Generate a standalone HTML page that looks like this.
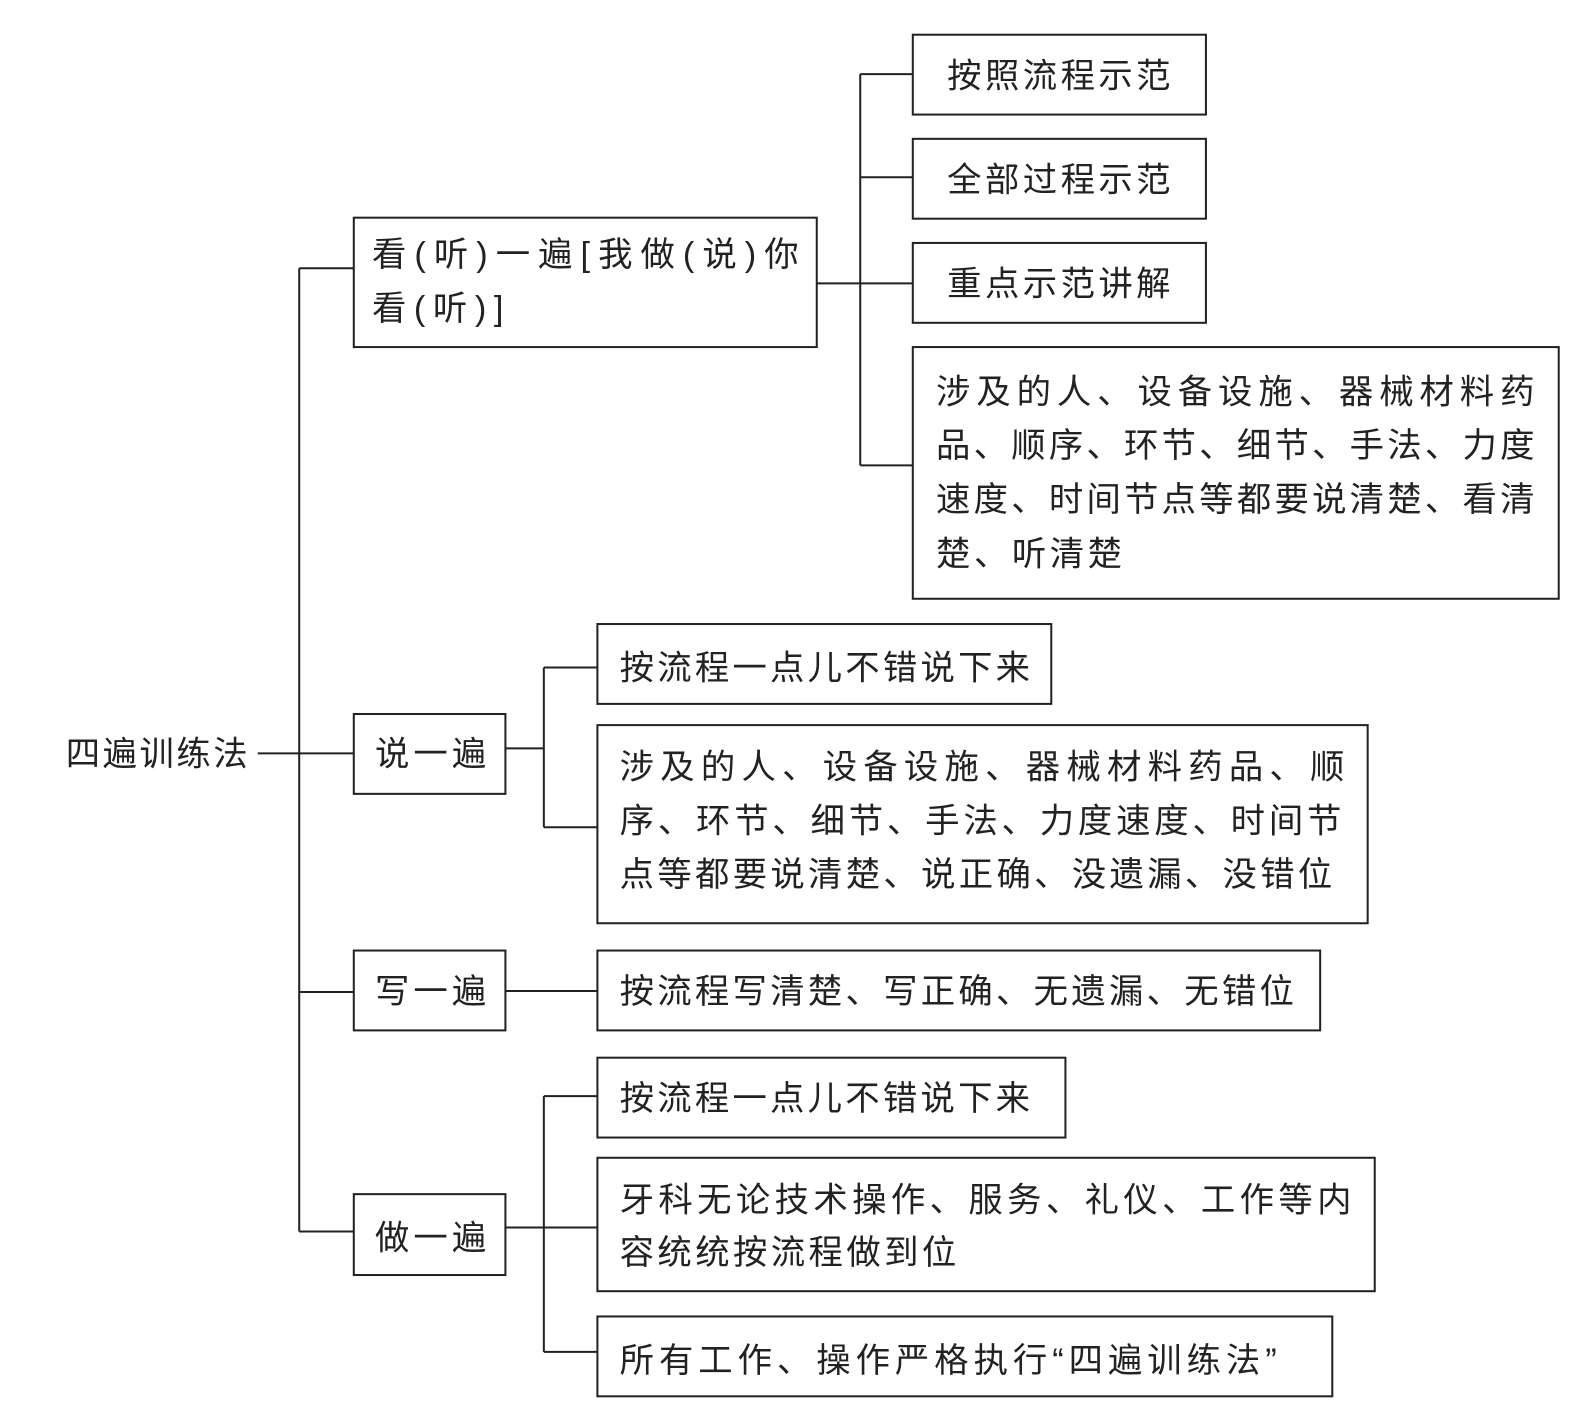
<!DOCTYPE html>
<html><head><meta charset="utf-8"><style>
html,body{margin:0;padding:0;background:#fff;}
svg{display:block;}
text{font-family:"Liberation Sans","Noto Sans CJK SC",sans-serif;font-size:34px;fill:#222;}
</style></head><body>
<svg width="1585" height="1428" viewBox="0 0 1568 1412" xmlns="http://www.w3.org/2000/svg">
<g stroke="#222" stroke-width="2" fill="none">
<line x1="255" y1="745" x2="350" y2="745"/>
<line x1="296" y1="265" x2="296" y2="1218"/>
<line x1="296" y1="265" x2="350" y2="265"/>
<line x1="296" y1="981" x2="350" y2="981"/>
<line x1="296" y1="1218" x2="350" y2="1218"/>
<rect x="350" y="215" width="458" height="128"/>
<line x1="808" y1="280" x2="903" y2="280"/>
<line x1="851" y1="73" x2="851" y2="460"/>
<line x1="851" y1="73" x2="903" y2="73"/>
<line x1="851" y1="175" x2="903" y2="175"/>
<line x1="851" y1="460" x2="903" y2="460"/>
<rect x="903" y="34" width="290" height="79"/>
<rect x="903" y="137" width="290" height="79"/>
<rect x="903" y="240" width="290" height="79"/>
<rect x="903" y="343" width="639" height="249"/>
<rect x="350" y="706" width="150" height="79"/>
<line x1="500" y1="740" x2="538" y2="740"/>
<line x1="538" y1="660" x2="538" y2="818"/>
<line x1="538" y1="660" x2="591" y2="660"/>
<line x1="538" y1="818" x2="591" y2="818"/>
<rect x="591" y="617" width="449" height="79"/>
<rect x="591" y="717" width="762" height="196"/>
<rect x="350" y="940" width="150" height="79"/>
<line x1="500" y1="980" x2="591" y2="980"/>
<rect x="591" y="940" width="715" height="79"/>
<rect x="350" y="1181" width="150" height="80"/>
<line x1="500" y1="1214" x2="538" y2="1214"/>
<line x1="538" y1="1084" x2="538" y2="1337"/>
<line x1="538" y1="1084" x2="591" y2="1084"/>
<line x1="538" y1="1214" x2="591" y2="1214"/>
<line x1="538" y1="1337" x2="591" y2="1337"/>
<rect x="591" y="1046" width="463" height="79"/>
<rect x="591" y="1145" width="769" height="132"/>
<rect x="591" y="1302" width="727" height="79"/>
</g>
<text x="65" y="757" textLength="180" lengthAdjust="spacing">四遍训练法</text>
<text x="368" y="263" textLength="422" lengthAdjust="spacing">看(听)一遍[我做(说)你</text>
<text x="368" y="316" textLength="130" lengthAdjust="spacing">看(听)]</text>
<text x="937" y="86" textLength="221" lengthAdjust="spacing">按照流程示范</text>
<text x="937" y="189" textLength="221" lengthAdjust="spacing">全部过程示范</text>
<text x="937" y="292" textLength="221" lengthAdjust="spacing">重点示范讲解</text>
<text x="926" y="399" textLength="592" lengthAdjust="spacing">涉及的人、设备设施、器械材料药</text>
<text x="926" y="452" textLength="592" lengthAdjust="spacing">品、顺序、环节、细节、手法、力度</text>
<text x="926" y="505" textLength="592" lengthAdjust="spacing">速度、时间节点等都要说清楚、看清</text>
<text x="926" y="559" textLength="184" lengthAdjust="spacing">楚、听清楚</text>
<text x="371" y="757" textLength="110" lengthAdjust="spacing">说一遍</text>
<text x="613" y="672" textLength="406" lengthAdjust="spacing">按流程一点儿不错说下来</text>
<text x="613" y="770" textLength="717" lengthAdjust="spacing">涉及的人、设备设施、器械材料药品、顺</text>
<text x="613" y="823" textLength="714" lengthAdjust="spacing">序、环节、细节、手法、力度速度、时间节</text>
<text x="613" y="876" textLength="705" lengthAdjust="spacing">点等都要说清楚、说正确、没遗漏、没错位</text>
<text x="371" y="992" textLength="110" lengthAdjust="spacing">写一遍</text>
<text x="613" y="992" textLength="667" lengthAdjust="spacing">按流程写清楚、写正确、无遗漏、无错位</text>
<text x="371" y="1236" textLength="110" lengthAdjust="spacing">做一遍</text>
<text x="613" y="1098" textLength="406" lengthAdjust="spacing">按流程一点儿不错说下来</text>
<text x="613" y="1198" textLength="724" lengthAdjust="spacing">牙科无论技术操作、服务、礼仪、工作等内</text>
<text x="613" y="1250" textLength="333" lengthAdjust="spacing">容统统按流程做到位</text>
<text x="613" y="1357" textLength="650" lengthAdjust="spacing">所有工作、操作严格执行“四遍训练法”</text>
</svg>
</body></html>
